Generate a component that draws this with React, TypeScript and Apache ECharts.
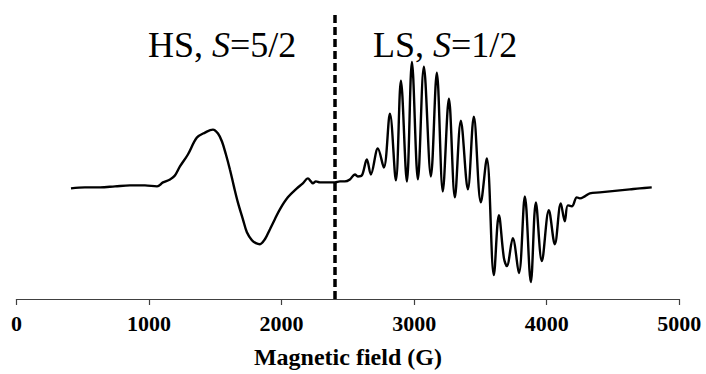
import React, { useEffect, useRef } from "react";
import * as echarts from "echarts";

// Magnetic field (G) and EPR signal (arbitrary units, baseline ~0)
const fieldG: number[] = [
  411, 516, 630, 743, 856, 969, 1060, 1105, 1158, 1195, 1233, 1293, 1361, 1422, 1482,
  1520, 1550, 1580, 1610, 1640, 1670, 1708, 1738, 1776, 1806, 1836, 1874, 1912, 1949,
  1987, 2047, 2115, 2160, 2198, 2221, 2236, 2259, 2289, 2342, 2402, 2440, 2477, 2515,
  2553, 2575, 2605, 2643, 2673, 2726, 2771, 2817, 2862, 2900, 2945, 2983, 3028, 3073,
  3126, 3171, 3216, 3262, 3307, 3352, 3405, 3450, 3503, 3548, 3601, 3639, 3677, 3699,
  3744, 3790, 3835, 3880, 3918, 3963, 4016, 4061, 4106, 4136, 4159, 4189, 4227, 4250,
  4287, 4325, 4400, 4476, 4551, 4627, 4702, 4792,
];
const signal: number[] = [
  -2, -1, -1, 0, 1, 1, 0, 4, 7, 11, 20, 32, 49, 54, 57,
  53, 45, 32, 17, 0, -16, -33, -46, -54, -57, -58, -53, -43, -33,
  -23, -11, -2, 3, 8, 5, 3, 5, 4, 4, 4, 5, 5, 7,
  12, 10, 11, 27, 12, 38, 19, 73, 6, 106, 5, 125, 7, 120,
  10, 114, -5, 88, -11, 66, -3, 70, -16, 28, -89, -29, -72, -80,
  -52, -87, -10, -96, -16, -75, -24, -58, -17, -35, -19, -20, -11, -12,
  -10, -7, -6, -5, -4, -3, -2, -1,
];
const xTicks: number[] = [0, 1000, 2000, 3000, 4000, 5000];
const dividerField = 2400;
const labelHS = "HS, {i|S}=5/2";
const labelLS = "LS, {i|S}=1/2";

export default function App() {
  const ref = useRef<HTMLDivElement>(null);
  useEffect(() => {
    if (!ref.current) return;
    const chart = echarts.init(ref.current, null, { renderer: "svg" });
    const serif = '"Liberation Serif", "Times New Roman", serif';
    const data = fieldG.map((x, i) => [x, signal[i]]);
    const annoStyle = {
      fontFamily: serif,
      fontSize: 36,
      fill: "#000",
      rich: { i: { fontFamily: serif, fontSize: 36, fontStyle: "italic", fill: "#000" } },
    };
    chart.setOption({
      animation: false,
      backgroundColor: "#fff",
      grid: { left: 16.5, right: 26.7, top: 13, bottom: 74, containLabel: false },
      xAxis: {
        type: "value",
        min: xTicks[0],
        max: xTicks[xTicks.length - 1],
        interval: 1000,
        name: "Magnetic field (G)",
        nameLocation: "middle",
        nameGap: 46,
        nameTextStyle: { fontFamily: serif, fontWeight: "bold", fontSize: 24, color: "#000" },
        axisLine: { onZero: false, lineStyle: { color: "#404040", width: 1.2 } },
        axisTick: { show: true, length: 6, inside: false, lineStyle: { color: "#404040", width: 1.2 } },
        axisLabel: {
          fontFamily: serif,
          fontWeight: "bold",
          fontSize: 22,
          color: "#000",
          margin: 13,
          formatter: (v: number) => String(v),
        },
        splitLine: { show: false },
      },
      yAxis: {
        type: "value",
        min: -113,
        max: 174,
        show: false,
        splitLine: { show: false },
      },
      series: [
        {
          type: "line",
          data,
          showSymbol: false,
          smooth: 0.35,
          lineStyle: { color: "#000", width: 2.4 },
          markLine: {
            silent: true,
            symbol: "none",
            label: { show: false },
            lineStyle: { color: "#000", width: 3.5, type: [8, 4] },
            data: [{ xAxis: dividerField }],
          },
        },
      ],
      graphic: [
        { type: "text", left: 148, top: 27, style: { text: labelHS, ...annoStyle } },
        { type: "text", left: 373, top: 27, style: { text: labelLS, ...annoStyle } },
      ],
    });
    return () => chart.dispose();
  }, []);
  return <div ref={ref} style={{ width: 706, height: 374, position: "absolute", left: 0, top: 0 }} />;
}
